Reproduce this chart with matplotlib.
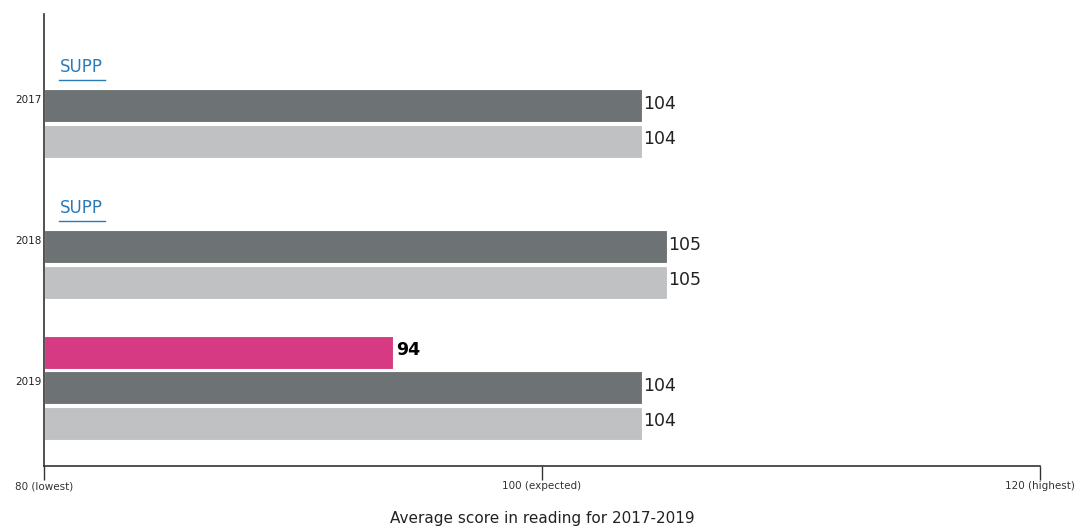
import matplotlib
matplotlib.use("Agg")
import matplotlib.pyplot as plt

years = ["2017", "2018", "2019"]
school = [None, None, 94]          # None = suppressed
comparison1 = [104, 105, 104]      # dark grey
comparison2 = [104, 105, 104]      # light grey
xticks = [80, 100, 120]
xticklabels = ["80 (lowest)", "100 (expected)", "120 (highest)"]

c_school = "#d63a82"
c_dark = "#6d7374"
c_light = "#c0c1c2"
c_link = "#2a7ab9"

fig = plt.figure(figsize=(10.82, 5.29), dpi=100)
ax = fig.add_axes([44/1082, 1-466/529, (1040-44)/1082, (466-14)/529])

h = 0.93
for g, yr in enumerate(years):
    base = g * 3.97
    # school slot
    if school[g] is None:
        ax.text(80.62, base - 0.1, "SUPP", color=c_link, fontsize=12, va="center", ha="left")
        ax.plot([80.62, 82.45], [base + 0.27, base + 0.27], color=c_link, lw=1)
    else:
        ax.barh(base, school[g] - 80, left=80, height=h, color=c_school, edgecolor="white", lw=0.8)
        ax.text(school[g] + 0.15, base - 0.05, str(school[g]), va="center", ha="left",
                fontsize=12.5, fontweight="bold", color="black")
    ax.barh(base + 1, comparison1[g] - 80, left=80, height=h, color=c_dark, edgecolor="white", lw=0.8)
    ax.text(comparison1[g] + 0.05, base + 0.95, str(comparison1[g]), va="center", ha="left", fontsize=12.5, color="#222222")
    ax.barh(base + 2, comparison2[g] - 80, left=80, height=h, color=c_light, edgecolor="white", lw=0.8)
    ax.text(comparison2[g] + 0.05, base + 1.95, str(comparison2[g]), va="center", ha="left", fontsize=12.5, color="#222222")
    ax.text(79.9, base + 0.85, yr, ha="right", va="center", fontsize=7.5, color="#222222")

ax.set_xlim(80, 120)
ax.set_ylim(11.15, -1.58)
ax.set_yticks([])
ax.set_xticks(xticks)
ax.set_xticklabels(xticklabels, fontsize=7.5, color="#333333")
ax.tick_params(axis="x", length=10, width=1, color="#333333", pad=1)
for s in ["top", "right"]:
    ax.spines[s].set_visible(False)
ax.spines["left"].set_color("#333333")
ax.spines["bottom"].set_color("#333333")
ax.spines["left"].set_linewidth(1.2)
ax.spines["bottom"].set_linewidth(1.2)
fig.text(542/1082, 1-518/529, "Average score in reading for 2017-2019", ha="center", va="center",
         fontsize=11, color="#222222")

fig.savefig("out.png", dpi=100)
